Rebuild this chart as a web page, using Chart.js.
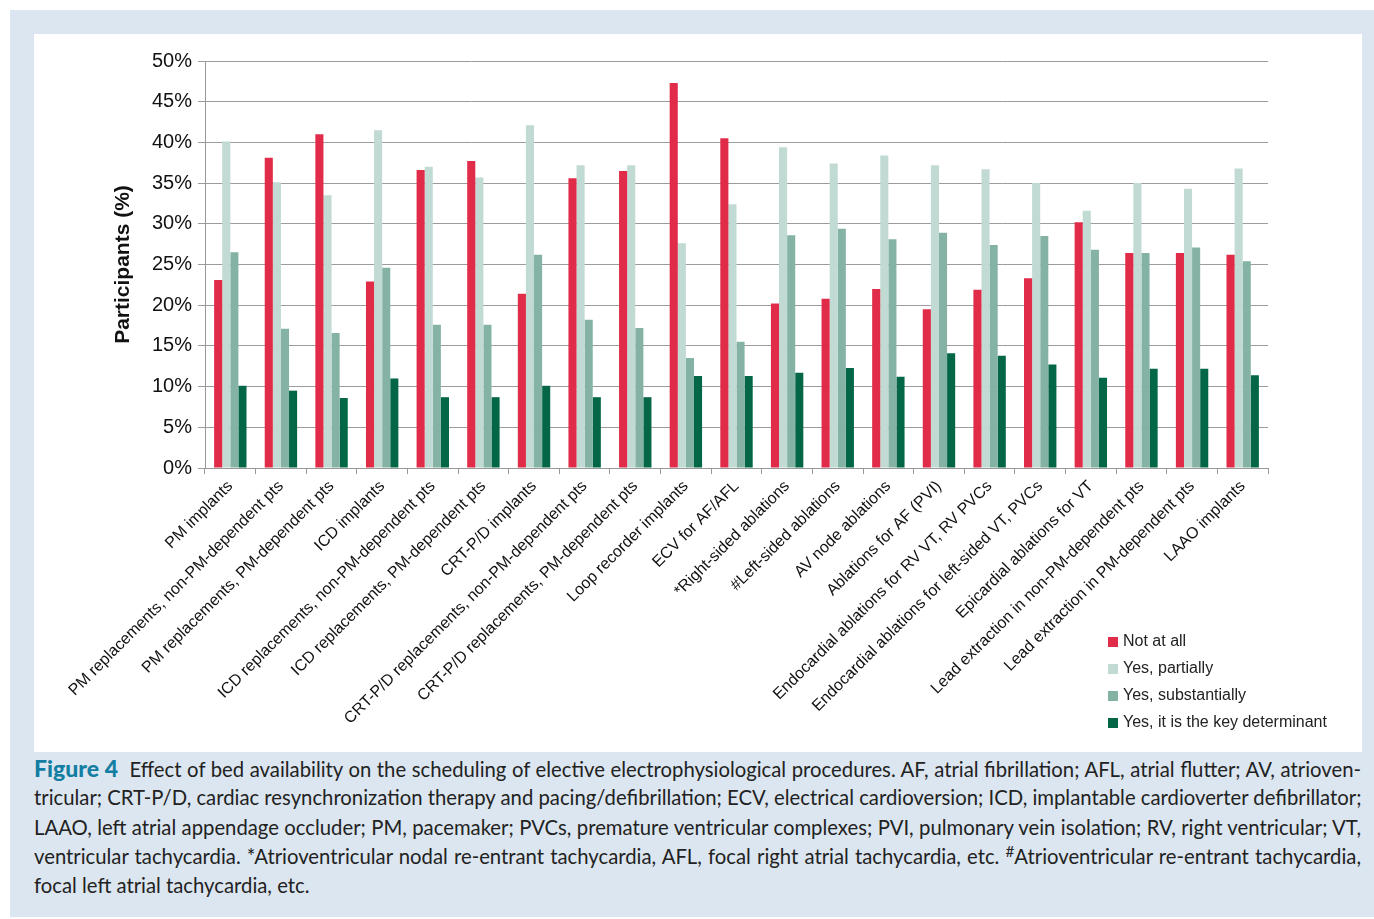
<!DOCTYPE html>
<html>
<head>
<meta charset="utf-8">
<script src="https://cdn.jsdelivr.net/npm/chart.js@4"></script>
<style>
  body { margin: 0; background: #fff; width: 1374px; height: 919px; position: relative; overflow: hidden; }
  #frame { position: absolute; left: 10px; top: 10px; width: 1364px; height: 907px; background: #dce6f0; }
  #panel { position: absolute; left: 34px; top: 34px; width: 1328px; height: 718px; background: #fff; }
  #legend { position: absolute; left: 1108px; top: 631px; font-family: "Liberation Sans", Arial, sans-serif; font-size: 16px; color: #222; }
  #legend div { height: 27px; line-height: 20px; white-space: nowrap; }
  #legend span.sw { display: inline-block; width: 10px; height: 10px; margin-right: 5px; vertical-align: -1px; }
  #caption { position: absolute; left: 34px; top: 754px; width: 1327px; font-family: Lato, "Open Sans", sans-serif; font-size: 20.3px; line-height: 29.3px; color: #222; }
  #caption div { white-space: nowrap; text-align: justify; text-align-last: justify; height: 29.3px; }
  #caption div.last { text-align-last: left; }
  #caption b { color: #137da2; font-size: 23px; font-weight: 900; }
  #caption sup { line-height: 0; font-size: 0.75em; vertical-align: 0.45em; }
</style>
</head>
<body>
<div id="frame"></div>
<div id="panel"><canvas id="grafico" width="1328" height="718"></canvas></div>
<div id="legend"></div>
<div id="caption">
  <div><b>Figure 4</b>&nbsp; Effect of bed availability on the scheduling of elective electrophysiological procedures. AF, atrial fibrillation; AFL, atrial flutter; AV, atrioven-</div>
  <div>tricular; CRT-P/D, cardiac resynchronization therapy and pacing/defibrillation; ECV, electrical cardioversion; ICD, implantable cardioverter defibrillator;</div>
  <div>LAAO, left atrial appendage occluder; PM, pacemaker; PVCs, premature ventricular complexes; PVI, pulmonary vein isolation; RV, right ventricular; VT,</div>
  <div>ventricular tachycardia. *Atrioventricular nodal re-entrant tachycardia, AFL, focal right atrial tachycardia, etc. <sup>#</sup>Atrioventricular re-entrant tachycardia,</div>
  <div class="last">focal left atrial tachycardia, etc.</div>
</div>
<script>
var categorias = [
  "PM implants",
  "PM replacements, non-PM-dependent pts",
  "PM replacements, PM-dependent pts",
  "ICD implants",
  "ICD replacements, non-PM-dependent pts",
  "ICD replacements, PM-dependent pts",
  "CRT-P/D implants",
  "CRT-P/D replacements, non-PM-dependent pts",
  "CRT-P/D replacements, PM-dependent pts",
  "Loop recorder implants",
  "ECV for AF/AFL",
  "*Right-sided ablations",
  "#Left-sided ablations",
  "AV node ablations",
  "Ablations for AF (PVI)",
  "Endocardial ablations for RV VT, RV PVCs",
  "Endocardial ablations for left-sided VT, PVCs",
  "Epicardial ablations for VT",
  "Lead extraction in non-PM-dependent pts",
  "Lead extraction in PM-dependent pts",
  "LAAO implants"
];

var notAtAll      = [23.1, 38.1, 41.0, 22.9, 36.6, 37.7, 21.4, 35.6, 36.5, 47.3, 40.5, 20.2, 20.8, 22.0, 19.5, 21.9, 23.3, 30.2, 26.4, 26.4, 26.2];
var partially     = [40.1, 35.1, 33.5, 41.5, 37.0, 35.7, 42.1, 37.2, 37.2, 27.6, 32.4, 39.4, 37.4, 38.4, 37.2, 36.7, 35.0, 31.6, 35.0, 34.3, 36.8];
var substantially = [26.5, 17.1, 16.6, 24.6, 17.6, 17.6, 26.2, 18.2, 17.2, 13.5, 15.5, 28.6, 29.4, 28.1, 28.9, 27.4, 28.5, 26.8, 26.4, 27.1, 25.4];
var keyDeterminant = [10.1, 9.5, 8.6, 11.0, 8.7, 8.7, 10.1, 8.7, 8.7, 11.3, 11.3, 11.7, 12.3, 11.2, 14.1, 13.8, 12.7, 11.1, 12.2, 12.2, 11.4];

var seriesNomes = ["Not at all", "Yes, partially", "Yes, substantially", "Yes, it is the key determinant"];
var seriesCores = ["#e02c48", "#c1dad4", "#84b3a5", "#026647"];

var yTicks = [0, 5, 10, 15, 20, 25, 30, 35, 40, 45, 50];

// legenda em html
var legenda = document.getElementById("legend");
seriesNomes.forEach((nome, i) => {
  var linha = document.createElement("div");
  linha.innerHTML = '<span class="sw" style="background:' + seriesCores[i] + '"></span>' + nome;
  legenda.appendChild(linha);
});

function plotarGrafico(idGrafico) {
  const ctx = document.getElementById(idGrafico).getContext("2d");
  const valores = [notAtAll, partially, substantially, keyDeterminant];

  let myChart = new Chart(ctx, {
    type: "bar",
    data: {
      labels: categorias,
      datasets: valores.map((v, i) => ({
        label: seriesNomes[i],
        data: v,
        backgroundColor: seriesCores[i],
        borderWidth: 0,
        barPercentage: 1,
        categoryPercentage: 0.64,
      })),
    },
    options: {
      responsive: false,
      animation: false,
      layout: { padding: { left: 0, right: 94, top: 27, bottom: 0 } },
      plugins: {
        legend: { display: false },
        tooltip: { enabled: false },
      },
      scales: {
        x: {
          afterFit: (scale) => { scale.height = 284; },
          grid: { display: true, drawOnChartArea: false, drawTicks: true, tickLength: 6, color: "#999", offset: true },
          border: { display: true, color: "#999", width: 1 },
          ticks: {
            autoSkip: false,
            minRotation: 45,
            maxRotation: 45,
            padding: 3,
            color: "#111",
            font: { family: "'Liberation Sans', Arial, sans-serif", size: 16 },
          },
        },
        y: {
          min: 0,
          max: 50,
          afterFit: (scale) => { scale.width = 171; },
          afterBuildTicks: (scale) => { scale.ticks = yTicks.map((v) => ({ value: v })); },
          grid: { color: "#9c9c9c", lineWidth: 1, tickLength: 7 },
          border: { display: true, color: "#999", width: 1 },
          ticks: {
            padding: 6,
            color: "#111",
            font: { family: "'Liberation Sans', Arial, sans-serif", size: 20 },
            callback: (v) => v + "%",
          },
          title: {
            display: true,
            text: "Participants (%)",
            color: "#111",
            padding: { top: 77, bottom: 0 },
            font: { family: "'Liberation Sans', Arial, sans-serif", size: 21, weight: "bold" },
          },
        },
      },
    },
  });
  return myChart;
}

plotarGrafico("grafico");
</script>
</body>
</html>
